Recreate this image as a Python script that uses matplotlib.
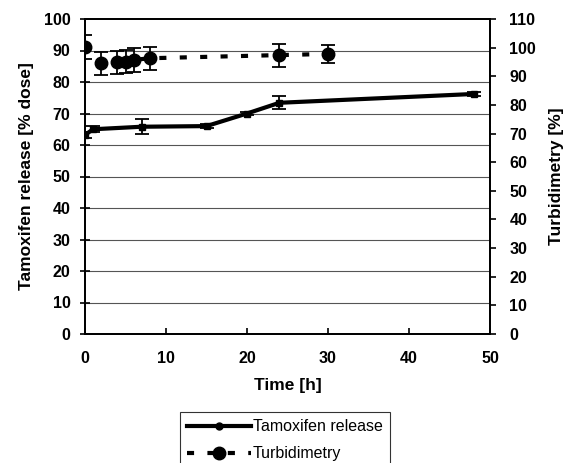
import matplotlib
matplotlib.use("Agg")
import matplotlib.pyplot as plt
from matplotlib.lines import Line2D

plt.rcParams['font.family'] = ['Liberation Sans', 'DejaVu Sans']

# tamoxifen release, left axis [% dose]
tam_time = [0, 1, 7, 15, 20, 24, 48]
tam_release = [63.2, 65.0, 65.8, 66.0, 70.0, 73.4, 76.2]
tam_err = [1.0, 1.0, 2.3, 0.6, 0.6, 2.0, 0.5]

# turbidimetry, right axis [%]
turb_time = [0, 2, 4, 5, 6, 8, 24, 30]
turb_value = [100.3, 94.5, 94.9, 95.1, 95.7, 96.3, 97.4, 97.8]
turb_err = [4.2, 4.0, 4.0, 4.0, 4.2, 4.0, 4.0, 3.1]

fig = plt.figure(figsize=(5.69, 4.63), dpi=100)
ax = fig.add_axes([85 / 569, 129 / 463, 405 / 569, 315 / 463])
ax2 = ax.twinx()

# grid lines on left axis
for yv in range(10, 100, 10):
    ax.axhline(yv, color='#555555', lw=0.8, zorder=0)

dash = (0, (1.7, 3.2))
ax.errorbar(tam_time, tam_release, yerr=tam_err, color='black', lw=3,
            marker='s', ms=4, elinewidth=1.3, capsize=5, capthick=1.3, zorder=3)
ax2.errorbar(turb_time, turb_value, yerr=turb_err, color='black', lw=3,
             ls=dash, marker='o', ms=9, elinewidth=1.3,
             capsize=5, capthick=1.3, zorder=3)

ax.set_xlim(0, 50)
ax.set_ylim(0, 100)
ax2.set_ylim(0, 110)
ax.set_xticks(range(0, 51, 10))
ax.set_yticks(range(0, 101, 10))
ax2.set_yticks(range(0, 111, 10))

for a in (ax, ax2):
    for s in a.spines.values():
        s.set_linewidth(1.3)

ax.tick_params(axis='y', direction='inout', length=7, width=1.2, pad=7)
ax.tick_params(axis='x', direction='in', length=4, width=1.2, pad=12)
ax2.tick_params(axis='y', direction='out', length=4, width=1.2, pad=10)

for lab in ax.get_xticklabels() + ax.get_yticklabels() + ax2.get_yticklabels():
    lab.set_fontweight('bold')
    lab.set_fontsize(11.5)

ax.set_xlabel('Time [h]', fontweight='bold', fontsize=12.5, labelpad=9)
ax.set_ylabel('Tamoxifen release [% dose]', fontweight='bold', fontsize=12.5, labelpad=7)
ax2.set_ylabel('Turbidimetry [%]', fontweight='bold', fontsize=12.5, labelpad=9)

handles = [Line2D([], [], color='black', lw=3, marker='o', ms=5),
           Line2D([], [], color='black', lw=3, ls=dash, marker='o', ms=9)]
leg = fig.legend(handles=handles, labels=['Tamoxifen release', 'Turbidimetry'],
                 loc='upper left', bbox_to_anchor=(180 / 569, 1 - 412 / 463),
                 frameon=True, fancybox=False, edgecolor='black',
                 fontsize=11.5, handlelength=4.0, borderpad=0.45,
                 labelspacing=0.75, handletextpad=0.1, borderaxespad=0)
leg.get_frame().set_linewidth(0.8)

fig.savefig('out.png', dpi=100)
